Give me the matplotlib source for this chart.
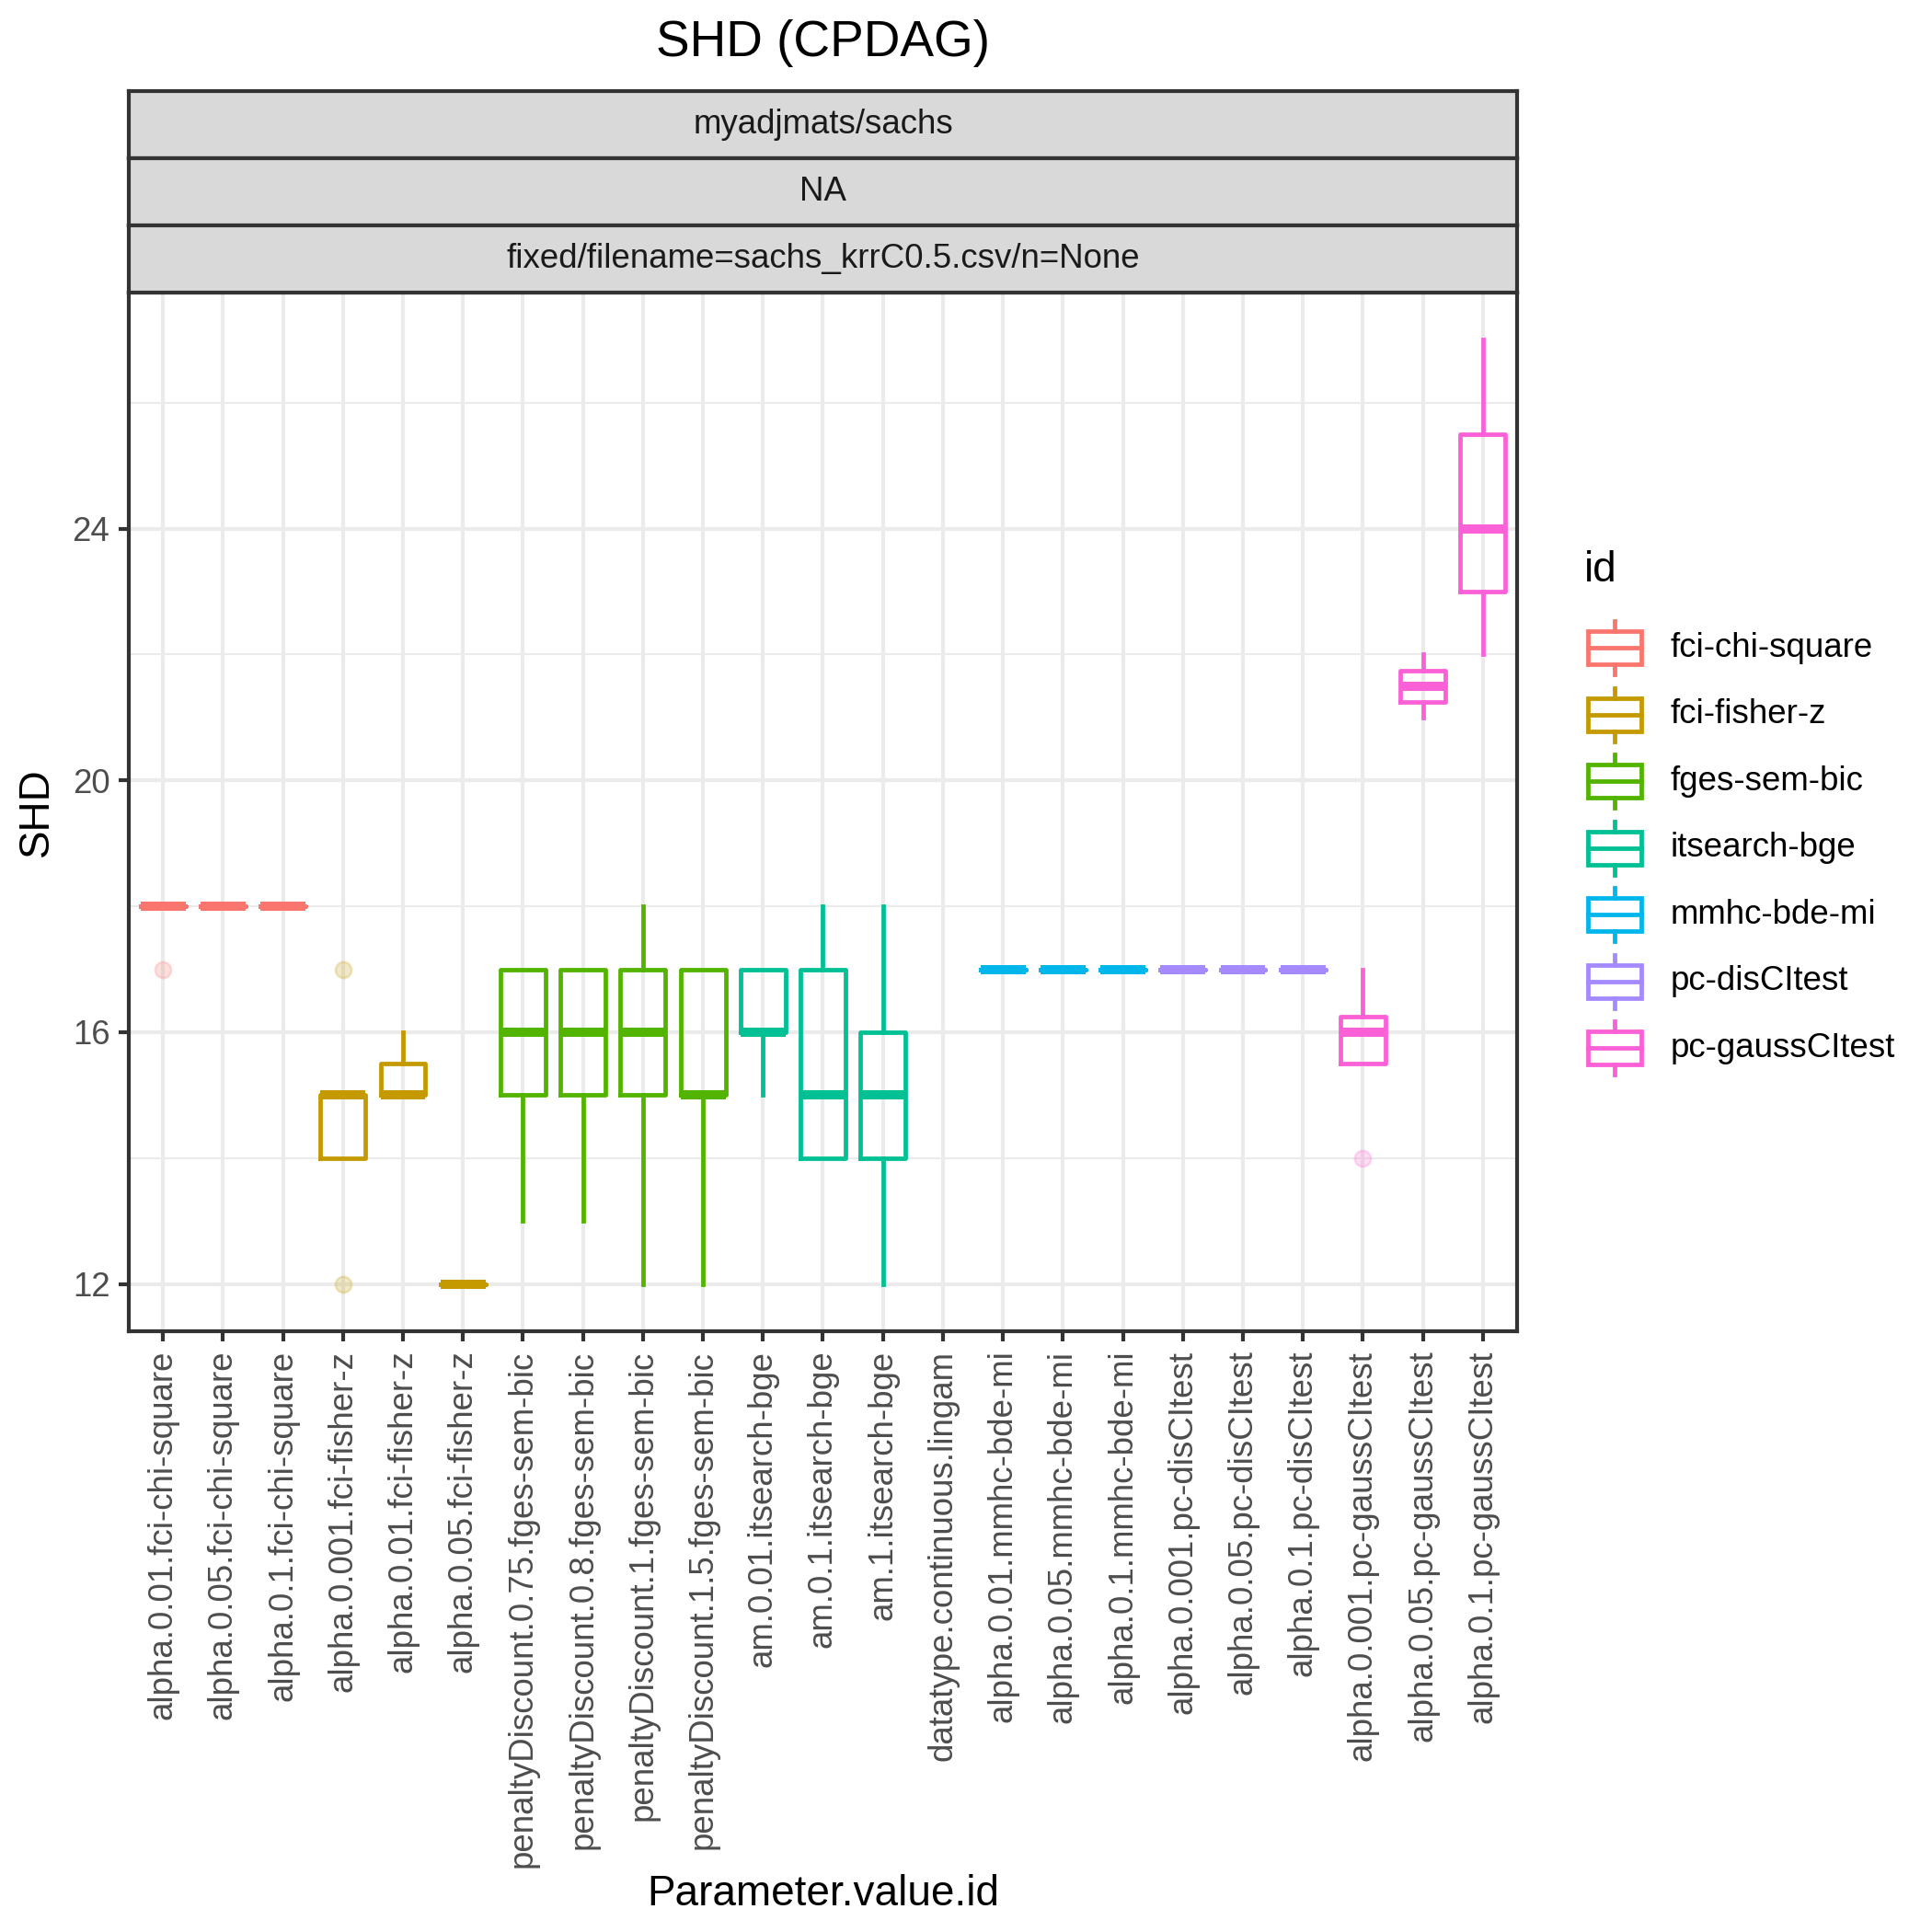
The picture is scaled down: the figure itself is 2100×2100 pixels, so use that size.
import matplotlib
matplotlib.use("Agg")
import matplotlib.pyplot as plt
from matplotlib.ticker import MultipleLocator

plt.rcParams['font.family'] = ['Liberation Sans', 'DejaVu Sans']

# x categories (Parameter.value.id) and the algorithm id of each
labels = ["alpha.0.01.fci-chi-square", "alpha.0.05.fci-chi-square", "alpha.0.1.fci-chi-square",
          "alpha.0.001.fci-fisher-z", "alpha.0.01.fci-fisher-z", "alpha.0.05.fci-fisher-z",
          "penaltyDiscount.0.75.fges-sem-bic", "penaltyDiscount.0.8.fges-sem-bic",
          "penaltyDiscount.1.fges-sem-bic", "penaltyDiscount.1.5.fges-sem-bic",
          "am.0.01.itsearch-bge", "am.0.1.itsearch-bge", "am.1.itsearch-bge",
          "datatype.continuous.lingam",
          "alpha.0.01.mmhc-bde-mi", "alpha.0.05.mmhc-bde-mi", "alpha.0.1.mmhc-bde-mi",
          "alpha.0.001.pc-disCItest", "alpha.0.05.pc-disCItest", "alpha.0.1.pc-disCItest",
          "alpha.0.001.pc-gaussCItest", "alpha.0.05.pc-gaussCItest", "alpha.0.1.pc-gaussCItest"]
ids = ["fci-chi-square"] * 3 + ["fci-fisher-z"] * 3 + ["fges-sem-bic"] * 4 + \
      ["itsearch-bge"] * 3 + [None] + ["mmhc-bde-mi"] * 3 + ["pc-disCItest"] * 3 + \
      ["pc-gaussCItest"] * 3

# box summaries (None = no data)
whislo = [18, 18, 18, 14, 15, 12, 13, 13, 12, 12, 15, 14, 12, None, 17, 17, 17, 17, 17, 17, 15.5, 21, 22]
q1     = [18, 18, 18, 14, 15, 12, 15, 15, 15, 15, 16, 14, 14, None, 17, 17, 17, 17, 17, 17, 15.5, 21.25, 23]
med    = [18, 18, 18, 15, 15, 12, 16, 16, 16, 15, 16, 15, 15, None, 17, 17, 17, 17, 17, 17, 16, 21.5, 24]
q3     = [18, 18, 18, 15, 15.5, 12, 17, 17, 17, 17, 17, 17, 16, None, 17, 17, 17, 17, 17, 17, 16.25, 21.75, 25.5]
whishi = [18, 18, 18, 15, 16, 12, 17, 17, 18, 17, 17, 18, 18, None, 17, 17, 17, 17, 17, 17, 17, 22, 27]
fliers = [[17], [], [], [12, 17], [], [], [], [], [], [], [], [], [], [], [], [], [], [], [], [], [14], [], []]

legend_ids = ["fci-chi-square", "fci-fisher-z", "fges-sem-bic", "itsearch-bge",
              "mmhc-bde-mi", "pc-disCItest", "pc-gaussCItest"]
palette = ["#F8766D", "#C49A00", "#53B400", "#00C094", "#00B6EB", "#A58AFF", "#FB61D7"]
colors = dict(zip(legend_ids, palette))

strips = ["myadjmats/sachs", "NA", "fixed/filename=sachs_krrC0.5.csv/n=None"]

W = 2100.0
fig = plt.figure(figsize=(7, 7), dpi=300)
pl, pr, pt, pb = 140, 1649, 318, 1447
ax = fig.add_axes([pl / W, 1 - pb / W, (pr - pl) / W, (pb - pt) / W])

for i in range(len(labels)):
    if med[i] is None:
        continue
    c = colors[ids[i]]
    st = dict(whislo=whislo[i], q1=q1[i], med=med[i], q3=q3[i], whishi=whishi[i], fliers=fliers[i])
    ax.bxp([st], positions=[i + 1], widths=0.75, showcaps=False, showfliers=True,
           manage_ticks=False,
           boxprops=dict(color=c, lw=1.15),
           whiskerprops=dict(color=c, lw=1.15),
           medianprops=dict(color=c, lw=2.4, solid_capstyle='butt'),
           flierprops=dict(marker='o', markerfacecolor=c, markeredgecolor=c, alpha=0.22,
                           markersize=4.2, markeredgewidth=0.6))

ax.set_xlim(0.43, len(labels) + 0.57)
ax.set_ylim(11.25, 27.75)
ax.set_xticks(range(1, len(labels) + 1))
ax.set_xticklabels(labels, rotation=90, fontsize=8.8, color='#4D4D4D')
ax.yaxis.set_major_locator(MultipleLocator(4))
ax.yaxis.set_minor_locator(MultipleLocator(2))
ax.tick_params(axis='y', which='major', labelsize=8.8, labelcolor='#4D4D4D')
ax.tick_params(which='major', length=2.75, width=1.0, color='#333333', pad=2.2)
ax.tick_params(which='minor', length=0)
ax.set_axisbelow(True)
ax.grid(which='major', color='#EBEBEB', lw=1.0)
ax.grid(which='minor', axis='y', color='#EBEBEB', lw=0.5)
for s in ax.spines.values():
    s.set_color('#333333')
    s.set_linewidth(1.0)

# facet strips
sh = 73
for k, txt in enumerate(strips):
    top = pt - (len(strips) - k) * sh
    sax = fig.add_axes([pl / W, 1 - (top + sh) / W, (pr - pl) / W, sh / W])
    sax.set_facecolor('#D9D9D9')
    sax.set_xticks([])
    sax.set_yticks([])
    for s in sax.spines.values():
        s.set_color('#333333')
        s.set_linewidth(1.0)
    sax.text(0.5, 0.5, txt, ha='center', va='center', fontsize=8.8, color='#1A1A1A',
             transform=sax.transAxes)

fig.text((pl + pr) / 2 / W, 1 - 47 / W, "SHD (CPDAG)", ha='center', va='center', fontsize=13.2)
fig.text((pl + pr) / 2 / W, 1 - 2059 / W, "Parameter.value.id", ha='center', va='center', fontsize=11)
fig.text(40 / W, 1 - (pt + pb) / 2 / W, "SHD", ha='center', va='center', rotation=90, fontsize=11)

# legend
key = 72.5
ltop = 668
lax = fig.add_axes([1719 / W, 1 - (ltop + key * len(legend_ids)) / W, key / W,
                    key * len(legend_ids) / W])
lax.set_xlim(0, 1)
lax.set_ylim(len(legend_ids), 0)
lax.axis('off')
for j, name in enumerate(legend_ids):
    c = colors[name]
    y0 = j
    lax.plot([0.5, 0.5], [y0 + 0.1, y0 + 0.25], color=c, lw=1.15)
    lax.plot([0.5, 0.5], [y0 + 0.75, y0 + 0.9], color=c, lw=1.15)
    lax.add_patch(plt.Rectangle((0.1, y0 + 0.25), 0.8, 0.5, fill=False, edgecolor=c, lw=1.15))
    lax.plot([0.1, 0.9], [y0 + 0.5, y0 + 0.5], color=c, lw=1.15)
    lax.text(1.33, y0 + 0.5, name, ha='left', va='center', fontsize=8.8, clip_on=False)
fig.text(1722 / W, 1 - 620 / W, "id", ha='left', va='center', fontsize=11)

fig.savefig("out.png", dpi=300)
